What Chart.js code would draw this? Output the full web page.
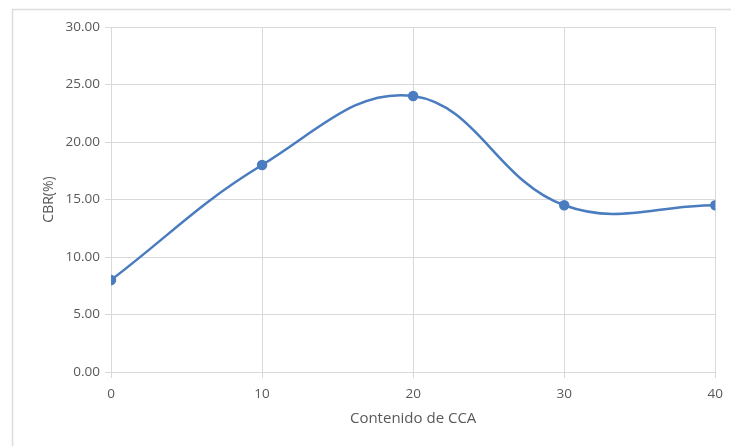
<!DOCTYPE html>
<html>
<head>
<meta charset="utf-8">
<script src="https://cdn.jsdelivr.net/npm/chart.js"></script>
<style>
    html, body { margin: 0; padding: 0; background: #ffffff; }
    #wrap { position: relative; width: 731px; height: 446px; overflow: hidden; }
</style>
</head>
<body>
<div id="wrap"><canvas id="cbr-chart" width="731" height="446"></canvas></div>
<script>
// CBR vs CCA content
const ccaContent = [0, 10, 20, 30, 40];
const cbrValues = [8.0, 18.0, 24.0, 14.5, 14.5];
const yTicks = [0, 5, 10, 15, 20, 25, 30];

const gridColor = '#d9d9d9';
const textColor = '#595959';
const lineColor = '#4a7cc0';
const fontFamily = "'Open Sans', 'Liberation Sans', sans-serif";

// Light frame around the chart area (left and top edges visible)
const framePlugin = {
    id: 'frame',
    beforeDraw(chart) {
        const ctx = chart.ctx;
        ctx.save();
        ctx.strokeStyle = '#dcdcdc';
        ctx.lineWidth = 1.5;
        ctx.strokeRect(12.5, 9.5, 760, 480);
        ctx.restore();
    }
};

new Chart(document.getElementById('cbr-chart'), {
    type: 'line',
    data: {
        datasets: [{
            data: ccaContent.map((x, i) => ({ x: x, y: cbrValues[i] })),
            borderColor: lineColor,
            backgroundColor: lineColor,
            borderWidth: 2.5,
            pointRadius: 4,
            pointBackgroundColor: lineColor,
            pointBorderColor: lineColor,
            tension: 0.4,
            fill: false
        }]
    },
    options: {
        responsive: false,
        animation: false,
        layout: {
            padding: { left: 37, right: 15, top: 27, bottom: 14 }
        },
        plugins: {
            legend: { display: false },
            tooltip: { enabled: false }
        },
        scales: {
            x: {
                type: 'linear',
                min: 0,
                max: 40,
                afterBuildTicks: (scale) => {
                    scale.ticks = ccaContent.map(v => ({ value: v }));
                },
                grid: {
                    color: gridColor,
                    lineWidth: 1,
                    tickLength: 6,
                    drawTicks: true
                },
                border: { display: false },
                ticks: {
                    color: textColor,
                    font: { family: fontFamily, size: 13.5 },
                    padding: 8,
                    maxRotation: 0
                },
                title: {
                    display: true,
                    text: 'Contenido de CCA',
                    color: textColor,
                    font: { family: fontFamily, size: 15 },
                    padding: { top: 4 }
                },
                afterFit: (scale) => { scale.height = 60; }
            },
            y: {
                min: 0,
                max: 30,
                afterBuildTicks: (scale) => {
                    scale.ticks = yTicks.map(v => ({ value: v }));
                },
                grid: {
                    color: gridColor,
                    lineWidth: 1,
                    tickLength: 6
                },
                border: { display: false },
                ticks: {
                    color: textColor,
                    font: { family: fontFamily, size: 13.5 },
                    padding: 5,
                    callback: (v) => Number(v).toFixed(2)
                },
                title: {
                    display: true,
                    text: 'CBR(%)',
                    color: textColor,
                    font: { family: fontFamily, size: 14 },
                    padding: { bottom: 6 }
                },
                afterFit: (scale) => { scale.width = 74; }
            }
        }
    },
    plugins: [framePlugin]
});
</script>
</body>
</html>
